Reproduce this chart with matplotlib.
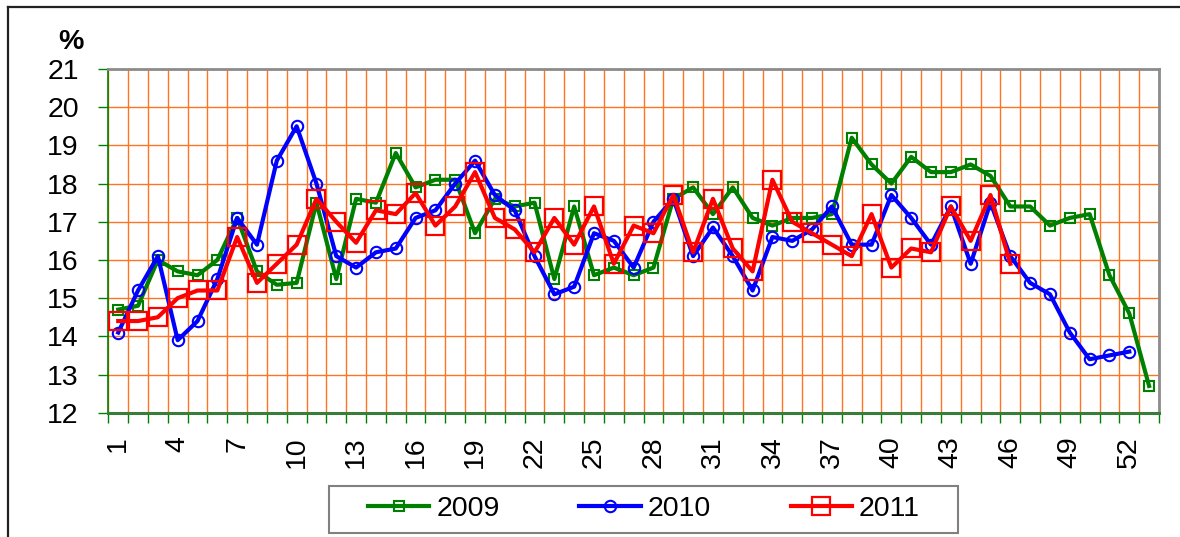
import numpy as np
import matplotlib
matplotlib.use("Agg")
import matplotlib.pyplot as plt
from matplotlib.lines import Line2D
from matplotlib.patches import Rectangle

plt.rcParams['font.family'] = ['Liberation Sans', 'DejaVu Sans']

# Weekly share (%) by year
y2009 = [14.7, 14.8, 16.0, 15.7, 15.6, 16.0, 17.1, 15.7, 15.35, 15.4,
         17.5, 15.5, 17.6, 17.5, 18.8, 17.9, 18.1, 18.1, 16.7, 17.6,
         17.4, 17.5, 15.5, 17.4, 15.6, 15.8, 15.6, 15.8, 17.6, 17.9,
         17.2, 17.9, 17.1, 16.9, 17.1, 17.1, 17.2, 19.2, 18.5, 18.0,
         18.7, 18.3, 18.3, 18.5, 18.2, 17.4, 17.4, 16.9, 17.1, 17.2,
         15.6, 14.6, 12.7]
y2010 = [14.1, 15.2, 16.1, 13.9, 14.4, 15.5, 17.1, 16.4, 18.6, 19.5,
         18.0, 16.1, 15.8, 16.2, 16.3, 17.1, 17.3, 18.0, 18.6, 17.7,
         17.3, 16.1, 15.1, 15.3, 16.7, 16.5, 15.8, 17.0, 17.6, 16.1,
         16.85, 16.1, 15.2, 16.6, 16.5, 16.8, 17.4, 16.4, 16.4, 17.7,
         17.1, 16.4, 17.4, 15.9, 17.5, 16.1, 15.4, 15.1, 14.1, 13.4,
         13.5, 13.6]
y2011 = [14.4, 14.4, 14.5, 15.0, 15.2, 15.2, 16.6, 15.4, 15.9, 16.4,
         17.6, 17.0, 16.45, 17.3, 17.2, 17.75, 16.9, 17.4, 18.3, 17.1,
         16.8, 16.2, 17.1, 16.4, 17.4, 15.9, 16.9, 16.7, 17.7, 16.2,
         17.6, 16.3, 15.7, 18.1, 17.0, 16.7, 16.4, 16.1, 17.2, 15.8,
         16.3, 16.2, 17.4, 16.5, 17.7, 15.9]

years = ['2009', '2010', '2011']
n_weeks = 53
week_labels = list(range(1, 53, 3))
y_ticks = list(range(12, 22))

fig = plt.figure(figsize=(11.8, 5.37), dpi=100)
ax = fig.add_axes([108.3 / 1180, 1 - 412.7 / 537, (1159 - 108.3) / 1180, (412.7 - 69) / 537])

grid_c = '#FF7420'
fs = 20.5

series = [
    (y2009, '#008000', 's', 7.8, 1.5),
    (y2010, '#0000FF', 'o', 8.2, 1.5),
    (y2011, '#FF0000', 's', 13.5, 1.6),
]
handles = []
for (vals, col, mk, ms, mew), lab in zip(series, years):
    x = np.arange(1, len(vals) + 1)
    h, = ax.plot(x, vals, color=col, lw=3.0, marker=mk, ms=ms,
                 mfc='none', mec=col, mew=mew, label=lab, zorder=3)
    handles.append(h)

ax.set_xlim(0.5, n_weeks + 0.5)
ax.set_ylim(12, 21)

# category boundaries carry ticks and gridlines, centres carry labels
ax.set_xticks(np.arange(0.5, n_weeks + 1, 1))
ax.set_xticklabels([])
ax.set_xticks(week_labels, minor=True)
ax.set_xticklabels([str(w) for w in week_labels], minor=True, rotation=90,
                   fontsize=fs)
ax.tick_params(axis='x', which='major', length=7.2, width=1, color='#008000',
               direction='out')
ax.tick_params(axis='x', which='minor', length=0, pad=17)

ax.set_yticks(y_ticks)
ax.set_yticklabels([str(v) for v in y_ticks], fontsize=fs)
ax.tick_params(axis='y', length=7.2, width=1, color='#008000', pad=14)

ax.grid(True, which='major', color=grid_c, lw=1.0, zorder=0)
ax.set_axisbelow(True)

ax.spines['left'].set_color('#008000')
ax.spines['left'].set_linewidth(1.2)
ax.spines['bottom'].set_color('#3A7D3A')
ax.spines['bottom'].set_linewidth(2.2)
for s in ('top', 'right'):
    ax.spines[s].set_color('#8C8C8C')
    ax.spines[s].set_linewidth(2.0)

fig.text(71 / 1180, 1 - 42 / 537, '%', fontsize=fs, fontweight='bold',
         ha='center', va='center')

leg = fig.legend(handles=handles, loc='center', ncol=3, frameon=False,
                 bbox_to_anchor=(644 / 1180, 1 - 509 / 537), fontsize=fs,
                 handlelength=2.15, handletextpad=0.25, columnspacing=2.8)

fig.add_artist(Rectangle((329 / 1180, 1 - 533 / 537), (958 - 329) / 1180,
                         (533 - 486) / 537, transform=fig.transFigure,
                         fill=False, edgecolor='#808080', lw=1.5))

# outer frame
fig.add_artist(Line2D([8 / 1180, 1.0], [1 - 7 / 537, 1 - 7 / 537],
                      transform=fig.transFigure, color='#222222', lw=1.6))
fig.add_artist(Line2D([8 / 1180, 8 / 1180], [1 - 7 / 537, 0.0],
                      transform=fig.transFigure, color='#222222', lw=1.6))

fig.savefig('out.png', dpi=100)
